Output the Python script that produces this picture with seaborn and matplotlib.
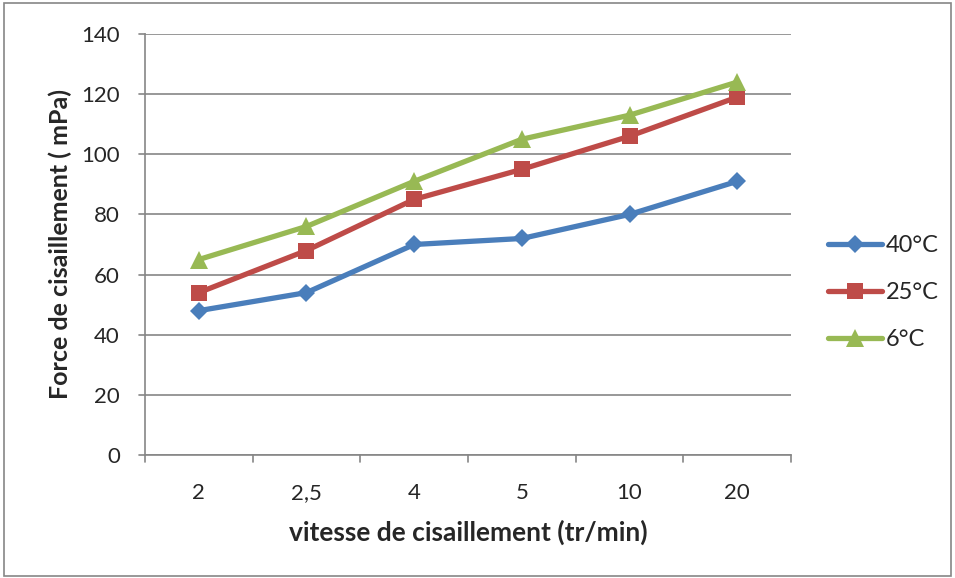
import matplotlib
matplotlib.use("Agg")
import matplotlib.pyplot as plt
import seaborn as sns
import pandas as pd
from matplotlib.patches import Rectangle

categories = ["2", "2,5", "4", "5", "10", "20"]
series_names = ["40°C", "25°C", "6°C"]
v40 = [48, 54, 70, 72, 80, 91]
v25 = [54, 68, 85, 95, 106, 119]
v6 = [65, 76, 91, 105, 113, 124]
yticks = [0, 20, 40, 60, 80, 100, 120, 140]

sns.set_theme(style="white")
plt.rcParams['font.family'] = ['Lato', 'DejaVu Sans']

rows = []
for name, vals in zip(series_names, [v40, v25, v6]):
    for i, (c, v) in enumerate(zip(categories, vals)):
        rows.append({"x": i, "cat": c, "y": v, "serie": name})
df = pd.DataFrame(rows)

fig = plt.figure(figsize=(9.55, 5.78), dpi=100)
ax = fig.add_axes([0.1518, 0.2128, 0.8283 - 0.1518, 0.9412 - 0.2128])

palette = {"40°C": "#4a7ebb", "25°C": "#be4b48", "6°C": "#98b954"}
markers = {"40°C": "D", "25°C": "s", "6°C": "^"}
sizes = {"40°C": 9, "25°C": 12, "6°C": 13}
for name in series_names:
    sub = df[df.serie == name]
    sns.lineplot(data=sub, x="x", y="y", ax=ax, color=palette[name], linewidth=3.8,
                 marker=markers[name], markersize=sizes[name], markeredgewidth=0,
                 label=name, zorder=3)

ax.set_xlim(-0.5, len(categories) - 0.5)
ax.set_ylim(0, 140)
ax.set_yticks(yticks)
ax.set_yticklabels([str(t) for t in yticks], fontsize=16)
ax.set_xticks(range(len(categories)))
ax.set_xticklabels(categories, fontsize=16)
ax.tick_params(axis='x', length=0, pad=20)
ax.tick_params(axis='y', length=0, pad=18)
for xb in [i - 0.5 for i in range(len(categories) + 1)]:
    ax.plot([xb, xb], [0, -2.2], color="#868686", lw=1.2, clip_on=False, zorder=2)
for yt in yticks:
    ax.plot([-0.5, -0.56], [yt, yt], color="#868686", lw=1.2, clip_on=False, zorder=2)

ax.grid(axis='y', color="#868686", linewidth=1.2)
ax.grid(axis='x', visible=False)
for s in ["top", "right"]:
    ax.spines[s].set_visible(False)
ax.spines["left"].set_color("#868686")
ax.spines["bottom"].set_color("#868686")
ax.spines["left"].set_linewidth(1.2)
ax.spines["bottom"].set_linewidth(1.2)

ax.set_xlabel("vitesse de cisaillement (tr/min)", fontsize=19, fontweight="bold", labelpad=12)
ax.set_ylabel("Force de cisaillement ( mPa)", fontsize=18, fontweight="bold", labelpad=7)

ax.get_legend().remove()
handles, labels = ax.get_legend_handles_labels()
fig.legend(handles, labels, loc="center left", bbox_to_anchor=(0.867, 0.494), frameon=False,
           fontsize=17, handlelength=2.3, labelspacing=1.1, handletextpad=0.15, borderpad=0,
           borderaxespad=0)

fig.patches.append(Rectangle((0.004, 0.004), 0.992, 0.99, transform=fig.transFigure,
                             fill=False, edgecolor="#868686", lw=1.2))
fig.savefig("out.png", dpi=100)
